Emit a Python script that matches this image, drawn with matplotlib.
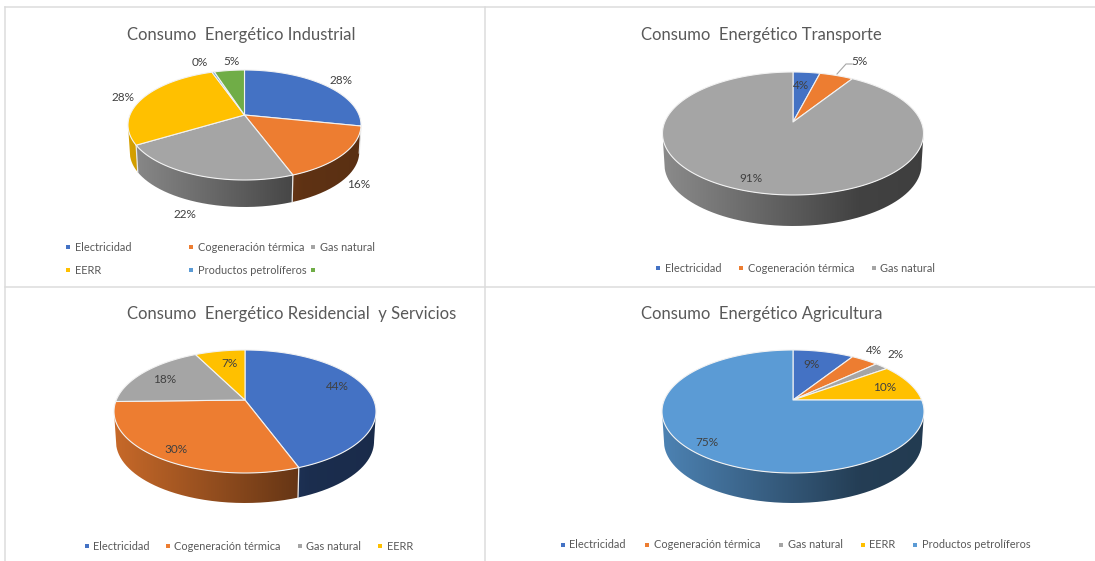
import numpy as np
import matplotlib
matplotlib.use('Agg')
import matplotlib.pyplot as plt
from matplotlib.path import Path

plt.rcParams['font.family'] = ['Lato', 'DejaVu Sans']

BLUE = '#4472C4'
ORANGE = '#ED7D31'
GRAY = '#A5A5A5'
YELLOW = '#FFC000'
LIGHTBLUE = '#5B9BD5'
GREEN = '#70AD47'

titles = ['Consumo  Energético Industrial', 'Consumo  Energético Transporte',
          'Consumo  Energético Residencial  y Servicios', 'Consumo  Energético Agricultura']

industrial = [28.2, 16.1, 22.1, 28.2, 0.4, 5.0]
transporte = [4.0, 5.0, 91.0]
residencial = [44.4, 30.2, 18.0, 7.4]
agricultura = [9.0, 4.0, 2.0, 10.0, 75.0]

ind_colors = [BLUE, ORANGE, GRAY, YELLOW, LIGHTBLUE, GREEN]
tra_colors = [BLUE, ORANGE, GRAY]
res_colors = [BLUE, ORANGE, GRAY, YELLOW]
agr_colors = [BLUE, ORANGE, GRAY, YELLOW, LIGHTBLUE]

ind_legend = ['Electricidad', 'Cogeneración térmica', 'Gas natural', 'EERR', 'Productos petrolíferos', '']
tra_legend = ['Electricidad', 'Cogeneración térmica', 'Gas natural']
res_legend = ['Electricidad', 'Cogeneración térmica', 'Gas natural', 'EERR']
agr_legend = ['Electricidad', 'Cogeneración térmica', 'Gas natural', 'EERR', 'Productos petrolíferos']

# layout, in pixels of the 1095x561 canvas
title_pos = [(127, 35), (641, 35), (127, 314), (641, 314)]
# apex x, apex y, rise to back edge, drop to front edge, half width, wall height
pie_geom = [(244.5, 115, 45, 65, 116.5, 27),
            (793, 122, 50, 73, 130.5, 31),
            (245, 400, 50, 73, 131, 30),
            (793, 400, 50, 73, 131, 30)]
ind_lab_pos = [(341, 80), (359, 184), (185, 214), (123, 97), (200, 62), (231, 61)]
tra_lab_pos = [(801, 85), (859, 61), (751, 178)]
res_lab_pos = [(337, 386), (176, 449), (165, 379), (229, 363)]
agr_lab_pos = [(812, 364), (874, 350), (896, 354), (885, 387), (707, 442)]
ind_leg_pos = [(68, 247), (191, 247), (313, 247), (68, 270), (191, 270), (313, 270)]
tra_leg_pos = [(658, 268), (741, 268), (874, 268)]
res_leg_pos = [(87, 546), (168, 546), (300, 546), (380, 546)]
agr_leg_pos = [(563, 545), (647, 545), (781, 545), (863, 545), (915, 545)]


def disc_to_canvas(theta, geom):
    # perspective view of a flat disc, theta runs clockwise from 12 o'clock
    cx, cy, up, down, half, _ = geom
    k = (down - up) / (down + up)
    b = up * (1 + k)
    a = half * np.sqrt(1 - k ** 2)
    u = np.sin(theta)
    v = np.cos(theta)
    w = 1 + k * v
    return cx + a * u / w, cy - b * v / w


def wall_gradient(color):
    # side wall gets darker from left to right
    t = np.linspace(0, 1, 256)
    f = np.interp(t, [0, 0.55, 0.75, 1], [0.84, 0.52, 0.40, 0.38])
    return (f[:, None] * np.array(matplotlib.colors.to_rgb(color)))[None, :, :]


def draw_pie(ax, values, colors, geom):
    cx, cy, up, down, half, depth = geom
    total = sum(values)
    edges = np.cumsum([0] + list(values)) / total * 2 * np.pi

    # only the arc between the widest points of the rim has a visible wall
    k = (down - up) / (down + up)
    front_start = np.arccos(-k)
    front_end = 2 * np.pi - front_start

    for i in range(len(values)):
        lo = max(edges[i], front_start)
        hi = min(edges[i + 1], front_end)
        if hi <= lo:
            continue
        th = np.linspace(lo, hi, 200)
        x, y = disc_to_canvas(th, geom)
        xb = cx + (x - cx) * 0.985
        yb = y + depth
        outline = np.column_stack([np.r_[x, xb[::-1]], np.r_[y, yb[::-1]]])
        im = ax.imshow(wall_gradient(colors[i]), extent=(cx - half, cx + half, cy + down + depth + 2, cy - up - 2),
                       aspect='auto', interpolation='bilinear', zorder=2)
        im.set_clip_path(Path(outline), transform=ax.transData)

        # slice boundary running down the wall
        if lo == edges[i]:
            ax.plot([x[0], xb[0]], [y[0], yb[0]], color='#e8e8e8', lw=0.9, zorder=3)

    for i in range(len(values)):
        th = np.linspace(edges[i], edges[i + 1], max(2, int(values[i] * 6)))
        x, y = disc_to_canvas(th, geom)
        ax.fill(np.r_[cx, x], np.r_[cy, y], facecolor=colors[i], edgecolor='#f2f2f2', lw=0.8,
                joinstyle='round', zorder=4)


def draw_labels(ax, values, positions):
    total = sum(values)
    for val, (x, y) in zip(values, positions):
        ax.text(x, y, '{:.0f}%'.format(val / total * 100), ha='center', va='center',
                fontsize=8.5, color='#404040', zorder=6)


def draw_legend(ax, names, colors, positions):
    for name, col, (x, y) in zip(names, colors, positions):
        ax.plot([x], [y], marker='s', ms=3.2, color=col, mew=0, zorder=6)
        if name:
            ax.text(x + 6.5, y, name, ha='left', va='center', fontsize=7.9, color='#595959', zorder=6)


fig = plt.figure(figsize=(10.95, 5.61), dpi=100)
ax = fig.add_axes([0, 0, 1, 1])
ax.set_xlim(0, 1095)
ax.set_ylim(561, 0)
ax.set_autoscale_on(False)
ax.axis('off')

# frame lines between the four panels
line_col = '#dcdcdc'
ax.plot([5, 1095], [7, 7], color=line_col, lw=1.1)
ax.plot([5, 1095], [286.5, 286.5], color=line_col, lw=1.1)
ax.plot([5, 5], [7, 561], color=line_col, lw=1.1)
ax.plot([484.5, 484.5], [7, 561], color=line_col, lw=1.1)

all_values = [industrial, transporte, residencial, agricultura]
all_colors = [ind_colors, tra_colors, res_colors, agr_colors]
all_legends = [ind_legend, tra_legend, res_legend, agr_legend]
all_lab_pos = [ind_lab_pos, tra_lab_pos, res_lab_pos, agr_lab_pos]
all_leg_pos = [ind_leg_pos, tra_leg_pos, res_leg_pos, agr_leg_pos]

for n in range(4):
    ax.text(title_pos[n][0], title_pos[n][1], titles[n], ha='left', va='center',
            fontsize=12, color='#595959')
    draw_pie(ax, all_values[n], all_colors[n], pie_geom[n])
    draw_labels(ax, all_values[n], all_lab_pos[n])
    draw_legend(ax, all_legends[n], all_colors[n], all_leg_pos[n])

# leader line of the 5% label in Transporte
ax.plot([837, 846, 852], [74, 64, 64], color='#a6a6a6', lw=0.8, zorder=5)

fig.savefig('out.png', dpi=100)
